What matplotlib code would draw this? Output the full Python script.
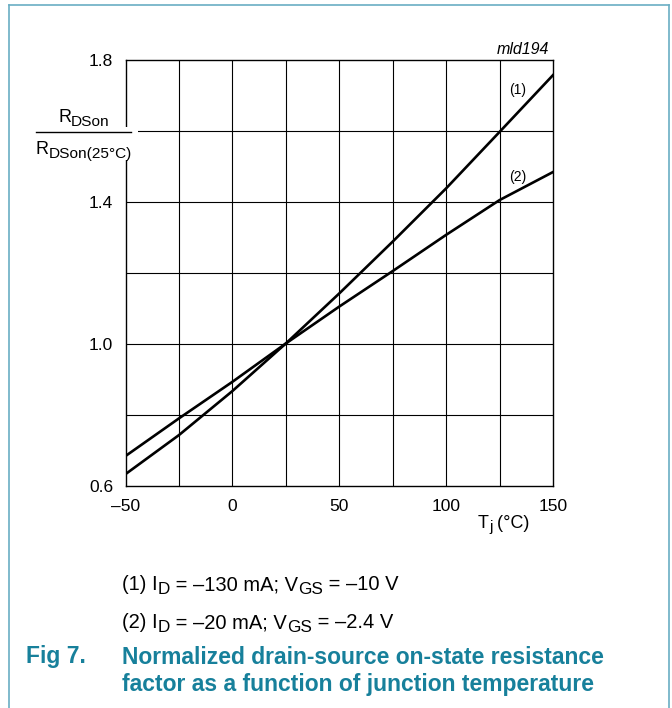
import matplotlib
matplotlib.use("Agg")
import matplotlib.pyplot as plt
from matplotlib.patches import Rectangle
from matplotlib.lines import Line2D

# junction temperature (degC) and normalized RDSon
temp = [-50, -25, 0, 25, 50, 75, 100, 125, 150]
r_curve1 = [0.632, 0.742, 0.866, 1.000, 1.141, 1.287, 1.437, 1.596, 1.756]
r_curve2 = [0.683, 0.789, 0.892, 1.000, 1.104, 1.204, 1.306, 1.404, 1.483]

x_ticks = [-50, 0, 50, 100, 150]
x_ticklabels = ["–50", "0", "50", "100", "150"]
y_ticks = [0.6, 1.0, 1.4, 1.8]
x_grid = [-25, 0, 25, 50, 75, 100, 125]
y_grid = [0.8, 1.0, 1.2, 1.4, 1.6]

curve_labels = ["(1)", "(2)"]
# (text, is_subscript) pieces
note1 = [("(1) I", False), ("D", True), (" = –130 mA; V", False),
         ("GS", True), (" = –10 V", False)]
note2 = [("(2) I", False), ("D", True), (" = –20 mA; V", False),
         ("GS", True), (" = –2.4 V", False)]
ylab_top = [("R", False), ("DSon", True)]
ylab_bot = [("R", False), ("DSon(25°C)", True)]
xlab = [("T", False), ("j", True), (" (°C)", False)]
fig_no = "Fig 7."
fig_title = ["Normalized drain-source on-state resistance",
             "factor as a function of junction temperature"]

plt.rcParams["font.family"] = ["Liberation Sans", "DejaVu Sans"]

W, H = 672, 708
teal = "#17809b"


def fx(px):
    return px / W


def fy(py):
    return 1 - py / H


fig = plt.figure(figsize=(W / 100, H / 100), dpi=100)
renderer = fig.canvas.get_renderer()


def text_width(s, size, **kw):
    # measure with bars on both sides so edge spaces count
    t = fig.text(0, 0, "|" + s + "|", fontsize=size, **kw)
    b = fig.text(0, 0, "||", fontsize=size, **kw)
    w = t.get_window_extent(renderer).width - b.get_window_extent(renderer).width
    t.remove()
    b.remove()
    return w


def rich_text(x, y, parts, size, ha="left", sub_scale=0.85, **kw):
    # y is the middle of the capitals, in pixels from the top
    size_px = size * 100 / 72
    base = y + 0.36 * size_px
    widths = []
    for s, sub in parts:
        widths.append(text_width(s, size * sub_scale if sub else size, **kw))
    x0 = x - sum(widths) / 2 if ha == "center" else x
    for (s, sub), w in zip(parts, widths):
        fs = size * sub_scale if sub else size
        yb = base + (0.2 * size_px if sub else 0)
        fig.text(fx(x0), fy(yb), s, fontsize=fs, va="baseline", zorder=7, **kw)
        x0 += w


ax = fig.add_axes([fx(125.5), fy(485.5), fx(553) - fx(125.5),
                   fy(59.5) - fy(485.5)])

for g in x_grid:
    ax.axvline(g, color="black", lw=0.8, zorder=1)
for g in y_grid:
    ax.axhline(g, color="black", lw=0.8, zorder=1)

ax.plot(temp, r_curve1, color="black", lw=1.9, zorder=3)
ax.plot(temp, r_curve2, color="black", lw=1.9, zorder=3)

ax.set_xlim(-50, 150)
ax.set_ylim(0.6, 1.8)
ax.set_xticks(x_ticks)
ax.set_xticklabels(x_ticklabels)
ax.set_yticks(y_ticks)
ax.set_yticklabels(["%.1f" % v for v in y_ticks])
ax.tick_params(length=0, labelsize=12.5)
ax.tick_params(axis="x", pad=10)
ax.tick_params(axis="y", pad=9)
for s in ax.spines.values():
    s.set_linewidth(1.0)

fig.text(fx(518), fy(90), curve_labels[0], fontsize=10, ha="center",
         va="center")
fig.text(fx(518), fy(177), curve_labels[1], fontsize=10, ha="center",
         va="center")
fig.text(fx(549), fy(50), "mld194", fontsize=11.5, style="italic",
         ha="right", va="center")

# y label as a fraction sitting over the axis line
fig.add_artist(Rectangle((fx(110), fy(160)), fx(138) - fx(110),
                         fy(127) - fy(160), transform=fig.transFigure,
                         facecolor="white", edgecolor="none", zorder=5))
fig.add_artist(Line2D([fx(36), fx(131)], [fy(132), fy(132)],
                      transform=fig.transFigure, color="black", lw=1.0,
                      zorder=6))
rich_text(84, 116, ylab_top, 13, ha="center")
rich_text(84, 148, ylab_bot, 13, ha="center")

rich_text(504, 521, xlab, 13, ha="center")

# notes and caption
rich_text(122, 583, note1, 14.5)
rich_text(122, 621, note2, 14.5)
fig.text(fx(26), fy(657), fig_no, fontsize=16.5, color=teal,
         fontweight="bold", va="center")
fig.text(fx(122), fy(657), fig_title[0], fontsize=16.5, color=teal,
         fontweight="bold", va="center")
fig.text(fx(122), fy(685), fig_title[1], fontsize=16.5, color=teal,
         fontweight="bold", va="center")

# frame around the figure
frame = "#6aaec4"
fig.add_artist(Line2D([fx(9), fx(9)], [fy(5), 0], transform=fig.transFigure,
                      color=frame, lw=1.2))
fig.add_artist(Line2D([fx(669), fx(669)], [fy(5), 0],
                      transform=fig.transFigure, color=frame, lw=1.2))
fig.add_artist(Line2D([fx(9), fx(669)], [fy(5), fy(5)],
                      transform=fig.transFigure, color=frame, lw=1.2))

fig.savefig("out.png", dpi=100)
